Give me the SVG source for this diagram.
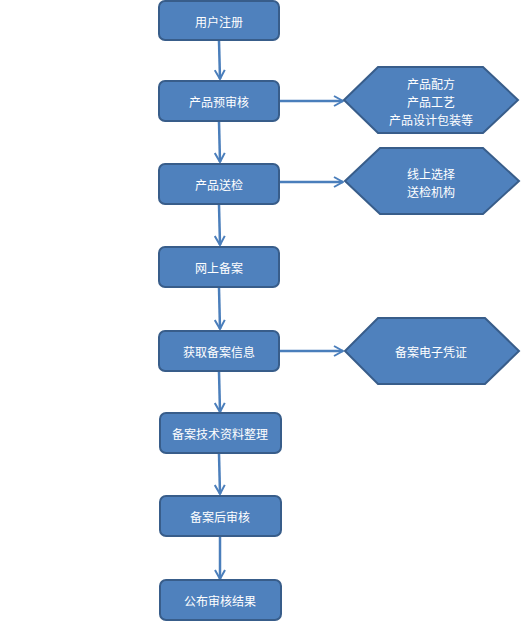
<svg xmlns="http://www.w3.org/2000/svg" width="521" height="623" viewBox="0 0 521 623">
<style>
.box{fill:#4f81bd;stroke:#385d8a;stroke-width:2}
.t{fill:#ffffff;font-family:"Noto Sans CJK SC","Liberation Sans",sans-serif;font-size:12px;text-anchor:middle;dominant-baseline:central}
.c{stroke:#4a7ebb;stroke-width:2.5;fill:none}
</style>
<defs>
<marker id="arr" viewBox="0 0 12 12" refX="11" refY="6" markerWidth="12" markerHeight="12" markerUnits="userSpaceOnUse" orient="auto">
<path d="M2,1 L11,6 L2,11" fill="none" stroke="#4a7ebb" stroke-width="2"/>
</marker>
</defs>
<rect width="521" height="623" fill="#ffffff"/>
<g id="connectors">
<line class="c" x1="219" y1="41" x2="220" y2="79" marker-end="url(#arr)"/>
<line class="c" x1="219" y1="122" x2="220" y2="162" marker-end="url(#arr)"/>
<line class="c" x1="219" y1="205" x2="220" y2="245" marker-end="url(#arr)"/>
<line class="c" x1="219" y1="288" x2="220" y2="329" marker-end="url(#arr)"/>
<line class="c" x1="219" y1="372" x2="220" y2="412" marker-end="url(#arr)"/>
<line class="c" x1="219" y1="454" x2="220" y2="494" marker-end="url(#arr)"/>
<line class="c" x1="220" y1="537" x2="220" y2="579" marker-end="url(#arr)"/>
<line class="c" x1="280" y1="101" x2="343" y2="101" marker-end="url(#arr)"/>
<line class="c" x1="280" y1="182" x2="343" y2="182" marker-end="url(#arr)"/>
<line class="c" x1="280" y1="351" x2="343" y2="351" marker-end="url(#arr)"/>
</g>
<g id="n1"><rect class="box" x="159" y="1" width="120" height="39" rx="6"/><text class="t" x="219" y="21">用户注册</text></g>
<g id="n2"><rect class="box" x="159" y="81" width="120" height="40" rx="6"/><text class="t" x="219" y="101">产品预审核</text></g>
<g id="n3"><rect class="box" x="159" y="164" width="120" height="40" rx="6"/><text class="t" x="219" y="184">产品送检</text></g>
<g id="n4"><rect class="box" x="159" y="247" width="120" height="40" rx="6"/><text class="t" x="219" y="267">网上备案</text></g>
<g id="n5"><rect class="box" x="159" y="331" width="120" height="40" rx="6"/><text class="t" x="219" y="351">获取备案信息</text></g>
<g id="n6"><rect class="box" x="160" y="413" width="121" height="40" rx="6"/><text class="t" x="220" y="433">备案技术资料整理</text></g>
<g id="n7"><rect class="box" x="160" y="496" width="121" height="40" rx="6"/><text class="t" x="220" y="516">备案后审核</text></g>
<g id="n8"><rect class="box" x="160" y="580" width="121" height="40" rx="6"/><text class="t" x="220" y="600">公布审核结果</text></g>
<g id="h1"><polygon class="box" points="344,100 378,67 483,67 518,100 483,133 378,133"/>
<text class="t" x="431" y="83">产品配方</text><text class="t" x="431" y="101">产品工艺</text><text class="t" x="431" y="119">产品设计包装等</text></g>
<g id="h2"><polygon class="box" points="345,181 380,148 483,148 519,181 483,214 380,214"/>
<text class="t" x="431" y="173">线上选择</text><text class="t" x="431" y="191">送检机构</text></g>
<g id="h3"><polygon class="box" points="345,351 378,318 485,318 519,351 485,384 378,384"/>
<text class="t" x="431" y="351">备案电子凭证</text></g>
</svg>
